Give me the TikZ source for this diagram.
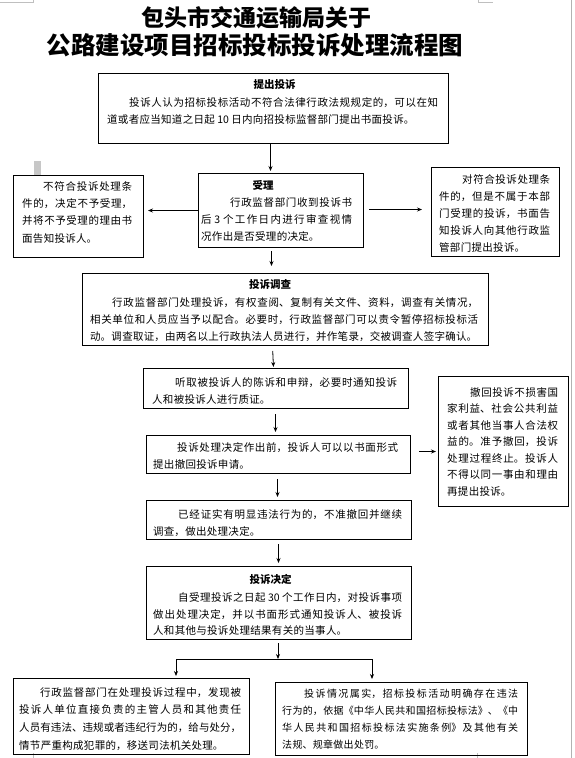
\documentclass[tikz,border=0pt]{standalone}
\usepackage{fontspec}
\setmainfont{Noto Sans CJK SC}
\usetikzlibrary{arrows.meta,calc}
\XeTeXlinebreaklocale "zh"
\XeTeXlinebreakskip=0.3pt plus 3pt minus 0.3pt
\tikzset{
  box/.style={draw, line width=1pt, inner sep=0pt, anchor=north west},
  txt/.style={inner sep=0pt, anchor=north west, align=justify, font=\fontsize{10.5}{#1}\selectfont},
  txt/.default=17.5,
  hd/.style={inner sep=0pt, font=\fontsize{10.5}{12}\selectfont\bfseries},
  arr/.style={line width=0.8pt, -{Stealth[length=5pt,width=4pt]}},
  ln/.style={line width=0.8pt},
  ttl/.style={inner sep=0pt, font=\bfseries},
  pagemark/.style={draw=black!25, line width=0.8pt}
}
\begin{document}
\begin{tikzpicture}[x=1pt,y=-1pt]
\useasboundingbox (0,0) rectangle (574,758);
% page marks
\draw[pagemark] (0,2) -- (33,2) -- (33,0);
\draw[pagemark] (478,0) -- (478,2) -- (493,2);
\draw[pagemark] (33,753) -- (33,758);
\draw[pagemark] (477,753) -- (477,758);
\draw[draw=black!30, line width=0.8pt] (571.5,0) -- (571.5,758);
\fill[black!22] (34,161) rectangle (41,175);
% title
\node[ttl, font=\fontsize{23}{23}\selectfont\bfseries] (ttl1) at (256,18) {包头市交通运输局关于};
\node[ttl, font=\fontsize{24.5}{24.5}\selectfont\bfseries] (ttl2) at (255,45) {公路建设项目招标投标投诉处理流程图};
% B1
\node[box, minimum width=350pt, minimum height=70pt] (b1) at (98,73) {};
\node[hd] (h1) at (274.5,85) {提出投诉};
\node[txt, text width=331pt] (t1) at (107,97.3) {\noindent\hspace*{22pt}投诉人认为招标投标活动不符合法律行政法规规定的，可以在知\linebreak 道或者应当知道之日起 10 日内向招投标监督部门提出书面投诉。};
% B2
\node[box, minimum width=165pt, minimum height=74pt] (b2) at (198,173) {};
\node[hd] (h2) at (263,185) {受理};
\node[txt=17.3, text width=151pt] (t2) at (201,197.3) {\noindent\hspace*{29pt}行政监督部门收到投诉书\linebreak 后 3 个工作日内进行审查视情\linebreak 况作出是否受理的决定。};
% left box
\node[box, minimum width=130pt, minimum height=82pt] (bl) at (13,175) {};
\node[txt=17.3, text width=110pt] (tl) at (22,181.3) {\noindent\hspace*{21pt}不符合投诉处理条\linebreak 件的，决定不予受理，\linebreak 并将不予受理的理由书\linebreak 面告知投诉人。};
% right box
\node[box, minimum width=128pt, minimum height=89pt] (br) at (431,167) {};
\node[txt=17, text width=111pt] (tr) at (439,174.3) {\noindent\hspace*{23pt}对符合投诉处理条\linebreak 件的，但是不属于本部\linebreak 门受理的投诉，书面告\linebreak 知投诉人向其他行政监\linebreak 管部门提出投诉。};
% B3
\node[box, minimum width=406pt, minimum height=72pt] (b3) at (82,273) {};
\node[hd] (h3) at (270,285) {投诉调查};
\node[txt=17, text width=388pt] (t3) at (90,297.3) {\noindent\hspace*{22pt}行政监督部门处理投诉，有权查阅、复制有关文件、资料，调查有关情况，\linebreak 相关单位和人员应当予以配合。必要时，行政监督部门可以责令暂停招标投标活\linebreak 动。调查取证，由两名以上行政执法人员进行，并作笔录，交被调查人签字确认。};
% B4
\node[box, minimum width=265pt, minimum height=40pt] (b4) at (143,368) {};
\node[txt=17, text width=245pt] (t4) at (152,377.3) {\noindent\hspace*{23pt}听取被投诉人的陈诉和申辩，必要时通知投诉\linebreak 人和被投诉人进行质证。};
% B5
\node[box, minimum width=264pt, minimum height=38pt] (b5) at (146,435) {};
\node[txt=17, text width=245pt] (t5) at (153,442.3) {\noindent\hspace*{24pt}投诉处理决定作出前，投诉人可以以书面形式\linebreak 提出撤回投诉申请。};
% withdraw box
\node[box, minimum width=130pt, minimum height=130pt] (bw) at (438,376) {};
\node[txt=16.5, text width=111pt] (tw) at (447,387.3) {\noindent\hspace*{23pt}撤回投诉不损害国\linebreak 家利益、社会公共利益\linebreak 或者其他当事人合法权\linebreak 益的。准予撤回，投诉\linebreak 处理过程终止。投诉人\linebreak 不得以同一事由和理由\linebreak 再提出投诉。};
% B6
\node[box, minimum width=265pt, minimum height=39pt] (b6) at (146,500) {};
\node[txt=17, text width=249pt] (t6) at (153,509.3) {\noindent\hspace*{25pt}已经证实有明显违法行为的，不准撤回并继续\linebreak 调查，做出处理决定。};
% B7
\node[box, minimum width=265pt, minimum height=73pt] (b7) at (146,566) {};
\node[hd] (h7) at (270.5,579) {投诉决定};
\node[txt=16.7, text width=249pt] (t7) at (153,592.3) {\noindent\hspace*{25pt}自受理投诉之日起 30 个工作日内，对投诉事项\linebreak 做出处理决定，并以书面形式通知投诉人、被投诉\linebreak 人和其他与投诉处理结果有关的当事人。};
% B8
\node[box, minimum width=236pt, minimum height=76pt] (b8) at (13,678) {};
\node[txt=17.6, text width=222pt] (t8) at (19,687.3) {\noindent\hspace*{21pt}行政监督部门在处理投诉过程中，发现被\linebreak 投诉人单位直接负责的主管人员和其他责任\linebreak 人员有违法、违规或者违纪行为的，给与处分，\linebreak 情节严重构成犯罪的，移送司法机关处理。};
% B9
\node[box, minimum width=252pt, minimum height=73pt] (b9) at (275,682) {};
\node[txt=17, text width=236pt, font=\fontsize{10}{17}\selectfont] (t9) at (282,688.6) {\noindent\hspace*{22pt}投诉情况属实，招标投标活动明确存在违法\linebreak 行为的，依据《中华人民共和国招标投标法》、《中\linebreak 华人民共和国招标投标法实施条例》及其他有关\linebreak 法规、规章做出处罚。};
% connectors
\draw[arr, shorten >=2pt] ($(b1.south)+(-3,0)$) -- ($(b2.north)+(-10.5,0)$);
\draw[arr, shorten >=4pt] (b2.west) -- (b2.west -| bl.east);
\draw[arr, shorten <=5pt, shorten >=9pt] ($(b2.east)+(0,-1)$) -- ($(b2.east -| br.west)+(0,-1)$);
\draw[arr, shorten <=3pt, shorten >=7pt] ($(b2.south)+(-9.5,0)$) -- ($(b3.north)+(-14,0)$);
\draw[arr, shorten <=5pt, shorten >=1pt] ($(b3.south)+(-13,0)$) -- ($(b4.north)+(-2.5,0)$);
\draw[arr, shorten <=5pt, shorten >=3pt] ($(b4.south)+(-0.5,0)$) -- ($(b5.north)+(-3,0)$);
\draw[arr, shorten <=8pt, shorten >=2pt] ($(b5.east)+(0,-3)$) -- ($(b5.east -| bw.west)+(0,-3)$);
\draw[arr, shorten <=5pt, shorten >=3pt] ($(b5.south)+(-1,0)$) -- ($(b6.north)+(-1.5,0)$);
\draw[arr, shorten <=4pt, shorten >=3pt] ($(b6.south)+(-0.5,0)$) -- ($(b7.north)+(-0.5,0)$);
\coordinate (sp) at (278,659);
\coordinate (sl) at (176,659);
\coordinate (sr) at (372,659);
\draw[arr, shorten <=3pt] (b7.south -| sp) -- (sp);
\draw[ln] (sl) -- (sr);
\draw[arr, shorten >=2pt] (sl) -- (sl |- b8.north);
\draw[arr, shorten >=3pt] (sr) -- (sr |- b9.north);
\end{tikzpicture}
\end{document}
